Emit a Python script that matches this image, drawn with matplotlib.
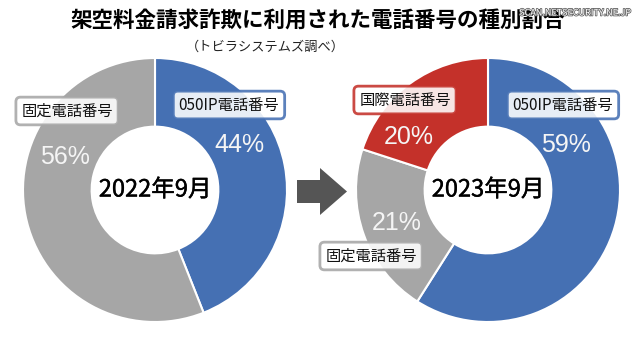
import matplotlib
matplotlib.use('Agg')
import matplotlib.pyplot as plt
import matplotlib.patches as mpatches
import matplotlib.patheffects as pe

plt.rcParams['font.family'] = ['Noto Sans CJK JP', 'DejaVu Sans']

title = '架空料金請求詐欺に利用された電話番号の種別割合'
subtitle = '（トビラシステムズ調べ）'

# 2022年9月
labels_2022 = ['050IP電話番号', '固定電話番号']
values_2022 = [44, 56]
colors_2022 = ['#4570B3', '#A6A6A6']

# 2023年9月
labels_2023 = ['050IP電話番号', '固定電話番号', '国際電話番号']
values_2023 = [59, 21, 20]
colors_2023 = ['#4570B3', '#A6A6A6', '#C4312A']

W, H = 640, 337
fig = plt.figure(figsize=(W / 100, H / 100), dpi=100)
fig.patch.set_facecolor('white')

R = 132  # 円の半径(px)


def donut(cx, cy, values, colors, center_text):
    ax = fig.add_axes([(cx - R) / W, (H - cy - R) / H, 2 * R / W, 2 * R / H])
    ax.pie(values, colors=colors, startangle=90, counterclock=False,
           wedgeprops=dict(width=0.52, edgecolor='white', linewidth=1.5))
    ax.set_xlim(-1, 1)
    ax.set_ylim(-1, 1)
    ax.set_aspect('equal')
    ax.axis('off')
    ax.text(0, 0, center_text, ha='center', va='center', fontsize=17, color='black',
            path_effects=[pe.withStroke(linewidth=0.3, foreground='black')])
    return ax


donut(155, 190, values_2022, colors_2022, '2022年9月')
donut(488, 190, values_2023, colors_2023, '2023年9月')

# 文字や矢印はピクセル座標の重ねレイヤーに描く
bg = fig.add_axes([0, 0, 1, 1])
bg.set_xlim(0, W)
bg.set_ylim(H, 0)
bg.axis('off')
bg.patch.set_alpha(0)

bg.text(318, 21, title, ha='center', va='center', fontsize=15.5, fontweight='bold')
bg.text(265, 47, subtitle, ha='center', va='center', fontsize=9.5, color='#222222')

bg.text(575, 13, 'SCAN.NETSECURITY.NE.JP', ha='center', va='center', fontsize=6.5,
        color='white', path_effects=[pe.withStroke(linewidth=1.2, foreground='#666666')])

# 矢印
bg.add_patch(mpatches.FancyArrow(297, 191.5, 50, 0, width=23, head_width=47,
                                 head_length=27, length_includes_head=True,
                                 color='#555555', lw=0))


def box_label(x, y, text, ec):
    bg.text(x, y, text, ha='center', va='center', fontsize=11, color='#111111',
            bbox=dict(boxstyle='round,pad=0.35,rounding_size=0.3', fc='white',
                      ec=ec, lw=2, alpha=0.88))


def pct(x, y, v):
    bg.text(x, y, f'{v}%', ha='center', va='center', fontsize=18, color='#F5F5F5',
            family=['Liberation Sans', 'DejaVu Sans'])


# 左
box_label(67, 111, labels_2022[1], colors_2022[1])
box_label(229, 105, labels_2022[0], colors_2022[0])
pct(239, 145, values_2022[0])
pct(65, 157, values_2022[1])

# 右
box_label(405, 100, labels_2023[2], colors_2023[2])
box_label(563, 105, labels_2023[0], colors_2023[0])
box_label(371, 256, labels_2023[1], colors_2023[1])
pct(566, 145, values_2023[0])
pct(409, 137, values_2023[2])
pct(397, 223, values_2023[1])

fig.savefig('out.png', dpi=100, facecolor='white')
